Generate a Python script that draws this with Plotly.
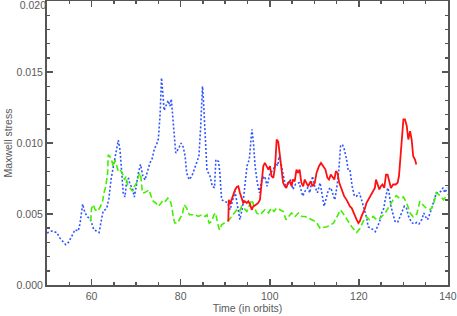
import plotly.graph_objects as go

# ---- data ----
blue_t = [50, 51.0, 52.2, 52.9, 54.2, 54.8, 55.5, 56.3, 57.0, 57.4,
          58.0, 58.5, 59.1, 59.6, 60.0, 60.5, 61.1, 61.7, 62.1, 62.6,
          63.4, 63.9, 64.4, 64.9, 65.4, 66.0, 66.4, 66.8, 67.1, 67.5,
          67.9, 68.3, 68.6, 69.2, 69.6, 70.0, 70.5, 71.0, 71.5, 72.0,
          72.6, 73.1, 73.6, 74.1, 74.6, 75.0, 75.4, 75.7, 76.0, 76.3,
          76.8, 77.2, 77.6, 77.9, 78.4, 78.9, 79.5, 80.1, 80.6, 81.0,
          81.35, 81.9, 82.5, 83.0, 83.6, 84.1, 84.5, 84.9, 85.1, 85.5,
          85.9, 86.6, 87.1, 87.6, 87.9, 88.5, 88.8, 89.2, 89.95, 90.5,
          91.1, 91.7, 92.2, 92.8, 93.3, 93.9, 94.4, 94.9, 95.4, 95.7,
          96.0, 96.35, 96.7, 97.2, 97.7, 98.2, 98.9, 99.4, 100.05, 100.8,
          101.3, 101.8, 102.1, 102.5, 103.0, 103.6, 104.1, 104.7, 105.2, 105.8,
          106.6, 107.4, 107.9, 108.5, 109.0, 109.6, 110.1, 110.7, 111.3, 111.8,
          112.2, 112.8, 113.2, 113.7, 114.2, 114.6, 115.1, 115.5, 115.9, 116.3,
          116.7, 117.25, 117.6, 118.0, 118.5, 119.0, 119.5, 120.1, 120.6, 121.2,
          121.7, 122.1, 122.7, 123.2, 123.7, 124.2, 124.7, 125.1, 125.6, 125.9,
          126.5, 126.8, 127.2, 127.6, 128.1, 128.7, 129.2, 129.75, 130.2, 130.7,
          131.2, 131.85, 132.4, 133.0, 133.5, 134.1, 134.6, 135.0, 135.4, 136.0,
          136.5, 136.9, 137.4, 138.0, 138.4, 138.9, 139.3, 139.9]
blue_v = [0.00367, 0.0038, 0.0037, 0.0033, 0.00284, 0.0030, 0.0034, 0.0039, 0.0038, 0.0043,
          0.0057, 0.0051, 0.0048, 0.0047, 0.0044, 0.0039, 0.0038, 0.0037, 0.0044, 0.0052,
          0.0054, 0.0061, 0.0075, 0.0083, 0.0090, 0.0102, 0.0095, 0.0079, 0.0065, 0.0062,
          0.0074, 0.0075, 0.0071, 0.0068, 0.0062, 0.0069, 0.0079, 0.0085, 0.0077, 0.0074,
          0.0081, 0.0086, 0.0089, 0.0096, 0.0099, 0.0103, 0.0121, 0.0146, 0.0135, 0.0123,
          0.0127, 0.0130, 0.0126, 0.0131, 0.0112, 0.0093, 0.0096, 0.0100, 0.0097, 0.00907,
          0.0079, 0.00743, 0.00766, 0.0081, 0.0086, 0.00907, 0.0112, 0.0140, 0.0131, 0.0105,
          0.0081, 0.00766, 0.00696, 0.00685, 0.00884, 0.0087, 0.0079, 0.0060, 0.0059, 0.0058,
          0.0053, 0.0060, 0.0066, 0.0055, 0.0046, 0.0055, 0.00696, 0.0084, 0.00884, 0.0102,
          0.01096, 0.0100, 0.0084, 0.0072, 0.0065, 0.00743, 0.00766, 0.00696, 0.0079, 0.0081,
          0.0086, 0.0084, 0.00907, 0.0086, 0.00766, 0.00685, 0.0071, 0.00743, 0.00673, 0.0071,
          0.0072, 0.00626, 0.0066, 0.00685, 0.0065, 0.00766, 0.00696, 0.0065, 0.0072, 0.00626,
          0.00555, 0.00626, 0.00673, 0.00685, 0.00638, 0.0060, 0.00696, 0.0081, 0.0098, 0.0099,
          0.0096, 0.00884, 0.0081, 0.0081, 0.00696, 0.00626, 0.00626, 0.0065, 0.0060, 0.0053,
          0.0048, 0.0041, 0.0040, 0.0039, 0.00376, 0.0041, 0.0045, 0.00507, 0.0054, 0.0060,
          0.00685, 0.0065, 0.00555, 0.00507, 0.0045, 0.0044, 0.0048, 0.0052, 0.00555, 0.0054,
          0.0048, 0.0044, 0.0043, 0.0044, 0.0043, 0.0046, 0.00507, 0.0048, 0.0046, 0.00507,
          0.00555, 0.0060, 0.0065, 0.0065, 0.0066, 0.00685, 0.0065, 0.00685]

green_t = [59.8, 60.0, 60.4, 60.8, 61.4, 61.9, 62.4, 62.8, 63.2, 63.6,
           63.75, 64.1, 64.5, 64.9, 65.25, 65.6, 66.0, 66.4, 66.9, 67.4,
           67.7, 68.1, 68.6, 69.2, 69.6, 70.1, 70.65, 71.0, 71.4, 71.85,
           72.4, 72.9, 73.4, 73.85, 74.45, 75.0, 75.6, 76.1, 76.6, 77.1,
           77.6, 78.0, 78.4, 78.7, 79.3, 79.85, 80.4, 80.8, 81.35, 81.95,
           82.5, 83.2, 84.0, 84.7, 85.5, 85.9, 86.4, 86.95, 87.5, 87.85,
           88.3, 88.7, 89.2, 89.7, 90.3, 90.9, 91.45, 91.95, 92.6, 93.2,
           93.7, 94.2, 94.85, 95.2, 95.7, 95.95, 96.5, 97.05, 97.8, 98.4,
           98.9, 99.7, 100.4, 100.95, 101.55, 102.3, 103.05, 103.65, 104.2, 104.9,
           105.7, 106.4, 107.2, 107.9, 108.7, 109.4, 110.2, 110.7, 111.3, 112.0,
           112.8, 113.5, 114.3, 114.9, 115.4, 115.9, 116.9, 117.6, 118.4, 119.5,
           120.2, 121.0, 121.7, 122.4, 123.2, 124.0, 124.7, 125.9, 127.0, 127.7,
           128.4, 129.2, 130.0, 130.7, 131.5, 132.2, 133.0, 133.7, 134.5, 135.2,
           136.0, 136.7, 137.4, 138.2, 139.0, 139.7, 140.0]
green_v = [0.0045, 0.0054, 0.00566, 0.0053, 0.0052, 0.00554, 0.00577, 0.0065, 0.00694, 0.00788,
           0.00917, 0.00905, 0.0088, 0.00835, 0.0088, 0.00847, 0.0080, 0.0081, 0.0079, 0.0074,
           0.00765, 0.00706, 0.00683, 0.0066, 0.00694, 0.0072, 0.00776, 0.00788, 0.0065, 0.0065,
           0.0066, 0.0067, 0.00624, 0.0059, 0.00577, 0.00554, 0.00577, 0.0060, 0.0059, 0.00612,
           0.0060, 0.00554, 0.0047, 0.00437, 0.00437, 0.0047, 0.0050, 0.00566, 0.00542, 0.00495,
           0.00495, 0.00495, 0.00483, 0.00495, 0.00483, 0.00495, 0.00436, 0.00448, 0.00495, 0.00507,
           0.00436, 0.00389, 0.00424, 0.00436, 0.00448, 0.0046, 0.00483, 0.00507, 0.0053, 0.00518,
           0.00554, 0.00542, 0.00518, 0.00542, 0.0059, 0.0060, 0.00554, 0.00507, 0.00495, 0.00518,
           0.0053, 0.00507, 0.00542, 0.00518, 0.00542, 0.0053, 0.00518, 0.0046, 0.00483, 0.00507,
           0.00483, 0.00507, 0.00483, 0.00483, 0.00471, 0.0046, 0.00448, 0.0043, 0.0040, 0.00405,
           0.0041, 0.0042, 0.00436, 0.0047, 0.00496, 0.0053, 0.00483, 0.0045, 0.0041, 0.0037,
           0.00396, 0.0045, 0.00483, 0.0046, 0.00483, 0.0046, 0.0047, 0.00507, 0.00566, 0.0060,
           0.0063, 0.0061, 0.0062, 0.0058, 0.00507, 0.0048, 0.0050, 0.0059, 0.0056, 0.0054,
           0.0053, 0.0056, 0.0065, 0.0063, 0.0060, 0.0063, 0.0064]

red_t = [90.7, 90.8, 91.1, 91.5, 91.8, 92.2, 92.6, 92.95, 93.3, 93.7,
         94.05, 94.4, 94.85, 95.2, 95.6, 95.95, 96.3, 96.9, 97.4, 97.8,
         98.2, 98.55, 98.9, 99.3, 99.7, 100.05, 100.4, 100.8, 101.2, 101.55,
         101.9, 102.3, 102.6, 103.0, 103.4, 103.7, 104.1, 104.5, 104.9, 105.2,
         105.6, 106.0, 106.35, 106.7, 107.1, 107.5, 107.85, 108.2, 108.6, 109.2,
         109.6, 110.1, 110.5, 111.05, 111.5, 112.0, 112.5, 112.95, 113.3, 113.7,
         114.1, 114.5, 114.85, 115.2, 115.6, 116.1, 116.7, 117.25, 117.6, 118.0,
         118.4, 118.8, 119.1, 119.5, 119.9, 120.2, 120.6, 121.0, 121.4, 121.7,
         122.1, 122.5, 122.9, 123.2, 123.6, 123.85, 124.2, 124.6, 124.95, 125.3,
         125.7, 126.1, 126.45, 126.85, 127.2, 127.7, 128.25, 128.7, 129.0, 129.3,
         129.6, 130.0, 130.35, 130.75, 131.1, 131.5, 131.85, 132.2, 132.6, 132.9]
red_v = [0.00448, 0.0060, 0.0057, 0.0061, 0.00625, 0.0067, 0.0069, 0.00695, 0.0065, 0.0060,
         0.00578, 0.0059, 0.00578, 0.0059, 0.00566, 0.0053, 0.00554, 0.00566, 0.00578, 0.0060,
         0.00743, 0.00837, 0.0086, 0.00837, 0.00813, 0.00837, 0.00766, 0.00755, 0.00837, 0.01025,
         0.0101, 0.00907, 0.00813, 0.0072, 0.00696, 0.00684, 0.0072, 0.00731, 0.00696, 0.00743,
         0.00731, 0.00813, 0.0079, 0.00813, 0.0072, 0.00696, 0.00743, 0.0072, 0.00696, 0.00731,
         0.00696, 0.0072, 0.0079, 0.00837, 0.0086, 0.00837, 0.00813, 0.00755, 0.00743, 0.00778,
         0.00755, 0.00743, 0.00802, 0.0079, 0.0072, 0.00673, 0.00626, 0.0060, 0.00578, 0.00554,
         0.00542, 0.00507, 0.00483, 0.0046, 0.00436, 0.00448, 0.00483, 0.00507, 0.00542, 0.00578,
         0.0060, 0.00626, 0.00638, 0.0066, 0.00684, 0.00743, 0.00708, 0.00673, 0.00696, 0.00708,
         0.00684, 0.00778, 0.00778, 0.0072, 0.00684, 0.00708, 0.00708, 0.0072, 0.00766, 0.00884,
         0.01025, 0.01167, 0.01167, 0.0112, 0.01025, 0.01084, 0.01025, 0.00907, 0.00884, 0.00849]

x_tick_vals = [60, 80, 100, 120, 140]
y_tick_vals = [0.000, 0.005, 0.010, 0.015]
y_top_tick = [0.020]
x_title = "Time (in orbits)"
y_title = "Maxwell stress"

# ---- figure ----
AX = "#555555"
FONT = dict(family="Liberation Sans, Arial, sans-serif", size=10.5, color="#5a5a5a")
Y_RANGE = [0, 0.02001]

fig = go.Figure()
fig.add_trace(go.Scatter(x=blue_t, y=blue_v, mode="lines",
                         line=dict(color="#2f55ff", width=1.6, dash="2px,2px")))
fig.add_trace(go.Scatter(x=green_t, y=green_v, mode="lines",
                         line=dict(color="#44ee00", width=1.6, dash="6px,3px")))
fig.add_trace(go.Scatter(x=red_t, y=red_v, mode="lines",
                         line=dict(color="#ff1010", width=1.8)))
# empty trace so the overlaying y axis (top label only) is drawn
fig.add_trace(go.Scatter(x=[None], y=[None], mode="lines", yaxis="y2",
                         hoverinfo="skip", showlegend=False))

fig.update_layout(
    width=457, height=316,
    margin=dict(l=47, r=9, t=1, b=31, autoexpand=False),
    paper_bgcolor="white", plot_bgcolor="white",
    showlegend=False,
    font=FONT,
    xaxis=dict(
        range=[50, 140.01], tickvals=x_tick_vals, automargin=False,
        ticklabeloverflow="allow",
        showgrid=False, zeroline=False,
        showline=True, linecolor=AX, linewidth=2, mirror="ticks",
        ticks="inside", ticklen=6, tickwidth=1.5, tickcolor=AX,
        minor=dict(dtick=5, tick0=50, ticks="inside", ticklen=3, tickwidth=1.5,
                   tickcolor=AX, showgrid=False),
        title=dict(text=x_title, standoff=0, font=FONT),
        tickfont=FONT,
    ),
    yaxis=dict(
        range=Y_RANGE, automargin=False,
        tickvals=y_tick_vals + y_top_tick,
        ticktext=["%.3f" % v for v in y_tick_vals] + [""],
        ticklabeloverflow="allow",
        showgrid=False, zeroline=False,
        showline=True, linecolor=AX, linewidth=2, mirror="ticks",
        ticks="inside", ticklen=6, tickwidth=1.5, tickcolor=AX,
        minor=dict(dtick=0.001, tick0=0, ticks="inside", ticklen=3, tickwidth=1.5,
                   tickcolor=AX, showgrid=False),
        title=dict(text=y_title, standoff=2, font=FONT),
        tickfont=FONT,
    ),
    yaxis2=dict(
        overlaying="y", side="left", anchor="x", range=Y_RANGE, automargin=False,
        tickvals=y_top_tick, ticktext=["%.3f" % v for v in y_top_tick],
        ticklabelshift=4, ticklabeloverflow="allow",
        showgrid=False, zeroline=False, showline=False, ticks="",
        tickfont=FONT,
    ),
)

fig.write_html("out.html",
               config={"displayModeBar": False, "staticPlot": True},
               post_script="document.body.style.margin='0';document.body.style.padding='0';")
